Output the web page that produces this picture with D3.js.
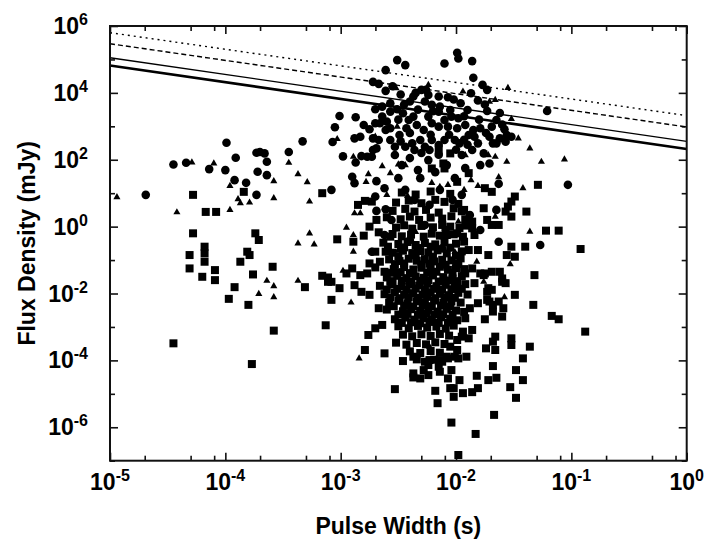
<!DOCTYPE html>
<meta charset="utf-8">
<head>
	<title>Flux Density vs Pulse Width</title>
	<script src="https://cdn.jsdelivr.net/npm/d3@7"></script>
	<style>
		body { margin: 0; background: #fff; }
		text { font-family: "Liberation Sans", Arial, sans-serif; font-weight: bold; fill: #000; }
	</style>
</head>
<body>
	<svg id="chart" width="708" height="540"></svg>
	<script>
		// every point is [log10 pulse width (s), log10 flux density (mJy)]
		var circles = [
			[-4.69,0.95],[-4.45,1.86],[-4.34,1.91],[-4.14,1.72],[-4.00,1.69],[-3.99,2.51],[-3.91,2.06],[-3.92,1.39],[-3.82,1.31],[-3.73,0.95],
			[-3.72,1.64],[-3.73,2.21],[-3.70,2.23],[-3.66,2.19],[-3.64,1.94],[-3.64,1.54],[-3.45,2.23],[-3.33,2.55],[-3.08,1.10],[-3.07,2.53],
			[-3.05,2.97],[-3.01,3.31],[-2.98,2.10],[-2.90,1.49],[-2.88,1.30],[-2.87,3.27],[-2.88,2.64],[-2.87,1.92],[-2.82,2.11],[-2.77,2.09],
			[-2.73,2.09],[-2.72,2.29],[-2.69,1.36],[-2.62,1.15],[-2.70,0.90],[-2.61,0.52],[-2.69,0.47],[-2.73,-0.75],
			[-2.51,4.98],[-2.44,4.83],[-2.61,4.68],[-2.72,4.33],[-2.67,4.27],[-2.61,4.06],[-2.57,3.69],[-2.40,3.74],[-2.37,3.89],[-2.30,4.09],
			[-2.26,4.09],[-2.27,3.74],[-2.70,3.51],[-2.64,3.59],[-2.57,3.44],[-2.51,3.51],[-2.64,3.29],[-2.60,3.14],[-2.61,2.89],[-2.57,2.94],
			[-2.66,3.09],[-2.46,3.39],[-2.41,3.19],[-2.43,2.94],[-2.37,3.29],[-2.34,3.04],[-2.70,3.09],[-2.80,3.04],[-2.75,2.91],[-2.83,2.69],
			[-2.67,2.59],[-2.57,2.59],[-2.69,2.34],[-2.53,2.39],[-2.44,2.39],[-2.38,2.49],[-2.31,2.59],[-2.28,2.89],[-2.27,2.39],[-2.72,2.64],
			[-1.99,5.20],[-1.98,5.03],[-2.10,4.88],[-1.86,4.95],[-1.85,4.45],[-1.77,4.24],[-1.73,4.09],[-2.24,3.94],[-2.15,3.89],[-2.07,3.87],
			[-1.96,3.69],[-1.87,3.99],[-1.81,3.77],[-1.90,3.49],[-1.73,3.46],[-1.65,3.19],[-1.21,3.46],[-2.21,3.64],[-2.14,3.59],[-2.15,3.44],
			[-2.05,3.49],[-2.04,3.29],[-1.98,3.24],[-2.10,3.19],[-2.24,3.29],[-2.21,3.09],[-2.15,2.99],[-2.07,2.99],[-1.99,2.94],[-1.92,3.04],
			[-1.85,2.89],[-1.79,2.94],[-1.89,2.74],[-1.84,2.69],[-1.69,2.99],[-1.58,2.91],[-1.56,2.74],[-1.62,2.64],[-1.52,2.69],[-1.71,2.69],
			[-1.68,2.49],[-2.10,2.59],[-2.01,2.59],[-1.97,2.49],[-2.21,2.59],[-2.15,2.44],[-1.81,2.49],[-1.65,2.49],[-1.57,2.54],
			[-1.03,1.25],[-1.27,-0.55],[-1.71,1.89],[-1.63,1.28],[-1.65,0.50],[-1.63,-0.45],[-1.86,2.29],[-1.76,2.19],
			[-2.53,2.14],[-2.47,1.84],[-2.40,2.05],[-2.33,1.69],[-2.24,1.99],[-2.18,1.63],[-2.08,1.84],[-2.01,1.45],[-1.92,1.75],[-2.14,1.10],
			[-2.03,0.80],[-2.23,0.65],[-1.95,0.95],[-2.44,1.10],[-2.36,0.80],[-2.56,0.20],[-2.27,0.05],[-2.09,-0.10],[-1.88,0.35],[-1.79,-0.10],
			[-2.12,-0.65],[-2.40,-0.40],[-2.62,-0.25],[-2.49,2.74],[-2.36,2.29],[-2.23,2.29],[-1.95,2.14],[-1.79,1.84],[-2.50,1.45],[-2.31,1.45],
			[-2.55,4.20],[-2.48,3.95],[-2.35,4.00],[-2.45,3.65],[-2.33,3.50],[-2.20,3.45],[-2.02,3.80],[-1.93,3.30],[-1.80,3.20],[-1.75,3.65],
			[-1.62,3.40],[-2.50,3.20],[-2.48,2.55],[-2.40,2.80],[-2.22,2.75],[-2.06,2.75],[-1.93,2.60],[-1.74,2.80],[-1.60,3.05],[-2.30,2.20],
			[-2.15,2.15],[-2.00,2.30],[-1.90,2.45]
		];

		var triangles = [
			[-4.94,0.88],[-4.42,0.43],[-4.29,1.92],[-4.10,1.89],[-3.96,1.22],[-3.96,0.50],[-3.89,0.82],[-3.87,0.70],[-3.79,0.72],[-3.58,1.36],
			[-3.58,0.85],[-3.45,1.91],[-3.37,1.57],[-3.29,1.33],[-3.27,0.75],[-3.37,-0.50],[-3.27,-0.20],[-3.23,-0.53],[-2.95,-0.03],[-2.89,-0.25],
			[-2.89,-0.75],[-3.64,-1.62],[-3.71,-2.01],[-3.58,-1.78],[-3.58,-2.11],[-3.37,-1.62],[-2.91,-2.27],[-2.84,-3.94],[-2.89,2.09],[-2.88,0.40],
			[-2.83,0.40],[-2.78,1.34],[-2.76,1.57],[-2.60,0.95],[-2.57,1.60],[-2.50,1.86],[-2.44,1.84],[-2.52,4.14],[-2.24,4.24],[-2.51,2.99],
			[-3.03,2.62],[-2.70,2.69],[-1.94,4.04],[-1.55,4.15],[-1.71,3.74],[-1.66,3.79],[-1.52,3.22],[-1.46,2.64],[-1.36,2.34],[-1.26,1.94],
			[-1.06,2.01],[-1.56,1.94],[-1.63,1.48],[-1.42,1.15],[-1.87,1.39],[-1.81,1.22],[-1.93,1.10],[-2.07,1.25],[-2.14,1.19],[-1.66,0.30],
			[-1.98,0.15],[-1.36,-0.15],[-1.92,2.14],[-1.72,2.14],[-1.66,2.09],[-2.98,-1.32],[-1.82,-1.05],[-1.53,-1.12],[-1.76,-1.65],[-1.58,-2.11],
			[-2.23,-3.59],[-2.42,0.92],[-2.21,1.31],[-2.64,1.81],[-2.35,-0.16],[-2.01,-0.76],[-2.50,-0.70],[-2.29,-1.06],[-2.08,-1.66],[-2.55,-1.66]
		];

		var squares = [
			[-4.28,0.95],[-3.84,1.04],[-4.17,0.44],[-4.08,0.44],[-4.28,-0.20],[-3.74,-0.20],[-3.71,-0.40],[-4.31,-0.85],[-4.18,-0.60],[-4.18,-0.80],
			[-4.18,-1.05],[-3.81,-0.75],[-3.79,-0.85],[-3.87,-1.05],[-4.31,-1.25],[-4.09,-1.30],[-3.59,-1.20],[-3.76,-1.43],[-3.16,1.00],[-3.03,-0.38],
			[-2.89,-0.45],[-2.85,0.65],[-4.20,-1.50],[-4.09,-1.60],[-3.92,-1.81],[-3.97,-2.16],[-3.80,-2.34],[-3.58,-3.11],[-4.45,-3.49],[-3.77,-4.11],
			[-3.31,-1.81],[-3.16,-1.47],[-3.11,-1.52],[-3.11,-1.65],[-3.08,-1.65],[-3.08,-2.19],[-3.13,-2.95],[-3.01,-1.84],[-2.95,-1.40],[-2.90,-1.25],
			[-2.88,-1.75],[-2.79,0.77],[-2.73,0.75],[-2.69,0.20],[-2.75,0.00],[-2.80,-0.27],[-2.67,-0.17],[-2.57,-0.30],[-2.59,-0.60],[-2.83,-1.45],
			[-2.77,-1.40],[-2.75,-1.10],[-2.66,-1.05],[-2.62,-1.35],[-2.57,-1.65],[-2.82,-1.95],[-2.75,-2.04],[-2.67,-2.44],[-2.64,-2.94],[-2.70,-3.04],
			[-2.76,-3.24],[-2.79,-3.69],[-2.62,-3.79],[-2.70,-0.75],[-2.61,-0.75],
			[-1.32,-1.45],[-1.49,-2.04],[-1.33,-2.34],[-1.17,-2.67],[-1.11,-2.77],[-0.88,-3.14],[-1.75,-2.77],[-1.60,-2.69],[-1.59,-2.44],[-1.66,-3.29],
			[-1.68,-3.44],[-1.74,-3.64],[-1.66,-3.69],[-1.52,-3.34],[-1.52,-3.54],[-1.36,-3.59],[-1.42,-3.94],[-1.72,-0.85],[-1.56,-0.85],[-1.49,-0.90],
			[-1.62,-1.35],[-1.60,-1.65],[-1.75,-1.40],[-1.72,-1.84],[-1.69,-1.89],[-1.73,-2.19],[-1.68,-2.34],[-1.84,-1.69],[-1.81,-2.29],[-1.88,-2.44],
			[-1.92,-2.74],[-1.86,-3.09],[-1.94,-3.14],[-1.89,-3.34],[-1.95,-3.29],[-2.05,-3.59],[-1.99,-3.69],[-2.08,-3.89],[-2.01,-3.89],[-1.91,-3.89],
			[-1.98,-1.10],[-1.92,-1.40],[-1.79,-1.40],[-1.86,-1.25],
			[-1.48,-4.29],[-1.42,-4.59],[-1.48,-5.12],[-1.53,-4.80],[-1.68,-4.17],[-1.65,-4.52],[-1.72,-4.59],[-1.82,-4.46],[-1.86,-4.95],[-1.81,-4.83],
			[-1.67,-5.63],[-1.83,-6.20],[-2.04,-5.86],[-1.98,-6.83],[-2.16,-5.28],[-2.18,-4.91],[-2.05,-4.83],[-2.02,-5.09],[-1.94,-4.98],[-1.97,-4.59],
			[-2.07,-4.54],[-2.37,-4.51],[-2.31,-4.54],[-2.28,-4.29],[-2.24,-4.14],[-2.15,-4.19],[-2.14,-3.99],[-2.23,-3.99],[-2.53,-4.86],[-1.99,-3.39],
			[-1.68,-2.54],[-1.71,-2.24],[-1.63,-2.24],[-1.73,-1.95],[-1.60,-1.55],[-1.57,-1.69],[-1.76,-1.45],[-1.69,-1.35],[-2.02,-4.83],[-2.14,-4.34],
			[-2.12,-4.04],[-2.07,-3.94],[-2.04,-4.29],[-1.98,-3.94],[-2.24,-4.44],[-2.37,-3.89],[-2.37,-4.39],
			[-2.15,2.29],[-2.05,2.19],[-2.11,1.89],[-2.10,1.74],[-2.21,1.74],[-1.89,1.60],[-1.99,1.34],[-1.75,1.15],[-1.69,1.04],[-1.49,0.90],
			[-1.52,0.75],[-1.55,0.60],[-1.39,0.45],[-1.29,1.25],[-1.93,0.50],[-1.76,0.55],[-1.57,0.45],[-1.52,0.30],[-1.73,0.20],[-1.69,0.05],
			[-1.63,0.05],[-1.22,-0.12],[-1.11,-0.12],[-0.92,-0.67],[-2.05,0.00],[-1.99,-0.20],[-2.08,-0.25],[-1.86,0.15],[-1.86,-0.05],[-1.84,-0.25],
			[-1.52,-0.60],[-1.40,-0.60],[-1.89,-0.70],[-1.81,-0.70],
			// the dense core
			[-2.47,1.02],[-2.35,0.96],[-2.22,1.05],[-2.05,0.98],
			[-2.52,0.72],[-2.41,0.78],[-2.30,0.70],[-2.18,0.80],[-2.10,0.74],[-1.98,0.68],
			[-2.55,0.47],[-2.44,0.53],[-2.36,0.45],[-2.26,0.50],[-2.15,0.42],[-2.02,0.55],[-1.95,0.46],
			[-2.60,0.28],[-2.48,0.22],[-2.40,0.30],[-2.32,0.20],[-2.22,0.27],[-2.12,0.24],[-2.04,0.31],[-1.92,0.22],
			[-2.52,-0.03],[-2.45,0.04],[-2.38,-0.06],[-2.30,0.02],[-2.20,-0.02],[-2.12,0.05],[-1.97,-0.04],[-1.92,0.03],
			[-2.55,-0.22],[-2.47,-0.29],[-2.39,-0.24],[-2.28,-0.30],[-2.21,-0.21],[-2.14,-0.27],[-2.02,-0.23],[-1.94,-0.30],
			[-2.63,-0.48],[-2.50,-0.52],[-2.42,-0.46],[-2.35,-0.55],[-2.27,-0.49],[-2.18,-0.53],[-2.10,-0.47],[-2.00,-0.51],[-1.93,-0.45],
			[-2.55,-0.78],[-2.46,-0.72],[-2.38,-0.79],[-2.31,-0.73],[-2.24,-0.77],[-2.16,-0.71],[-2.08,-0.80],[-1.95,-0.74],
			[-2.58,-0.98],[-2.49,-1.03],[-2.41,-0.96],[-2.34,-1.02],[-2.27,-0.97],[-2.19,-1.04],[-2.12,-0.99],[-2.04,-1.01],[-1.96,-0.95],
			[-2.70,-1.22],[-2.54,-1.27],[-2.45,-1.21],[-2.37,-1.28],[-2.30,-1.23],[-2.22,-1.26],[-2.14,-1.20],[-2.07,-1.29],[-2.00,-1.24],[-1.93,-1.27],
			[-2.60,-1.52],[-2.51,-1.47],[-2.43,-1.54],[-2.35,-1.49],[-2.28,-1.53],[-2.20,-1.46],[-2.11,-1.51],[-2.03,-1.55],[-1.95,-1.48],
			[-2.66,-1.77],[-2.56,-1.72],[-2.47,-1.79],[-2.40,-1.73],[-2.32,-1.76],[-2.25,-1.71],[-2.17,-1.78],[-2.09,-1.74],[-2.01,-1.77],[-1.92,-1.72],
			[-2.62,-2.02],[-2.53,-1.97],[-2.45,-2.04],[-2.37,-1.99],[-2.29,-2.03],[-2.22,-1.96],[-2.14,-2.01],[-2.06,-2.05],[-1.98,-1.98],[-1.90,-2.03],
			[-2.58,-2.27],[-2.50,-2.22],[-2.42,-2.29],[-2.34,-2.23],[-2.27,-2.26],[-2.19,-2.21],[-2.11,-2.28],[-2.04,-2.24],[-1.96,-2.27],
			[-2.60,-2.48],[-2.46,-2.53],[-2.39,-2.47],[-2.31,-2.52],[-2.24,-2.49],[-2.16,-2.54],[-2.08,-2.46],[-2.00,-2.51],[-1.93,-2.55],
			[-2.53,-2.77],[-2.44,-2.72],[-2.36,-2.78],[-2.28,-2.74],[-2.21,-2.79],[-2.13,-2.71],[-2.05,-2.76],[-1.99,-2.80],
			[-2.50,-2.98],[-2.41,-3.04],[-2.33,-2.97],[-2.25,-3.02],[-2.17,-2.99],[-2.09,-3.05],[-2.02,-2.96],
			[-2.46,-3.23],[-2.38,-3.28],[-2.30,-3.22],[-2.22,-3.27],[-2.14,-3.21],[-2.06,-3.26],
			[-2.52,-3.47],[-2.43,-3.53],[-2.34,-3.48],[-2.26,-3.52],[-2.18,-3.46],[-2.10,-3.51],
			[-2.40,-3.73],[-2.31,-3.78],[-2.22,-3.72],[-2.14,-3.77],
			[-2.46,-4.02],[-2.34,-3.97],[-2.27,-4.04],[-2.19,-3.98],
			[-2.45,-0.62],[-2.33,-0.64],[-2.22,-0.60],[-2.05,-0.63],
			[-2.50,-0.88],[-2.35,-0.86],[-2.20,-0.90],[-2.00,-0.87],
			[-2.53,-1.12],[-2.45,-1.10],[-2.30,-1.13],[-2.23,-1.11],[-2.09,-1.14],[-1.99,-1.12],
			[-2.57,-1.38],[-2.48,-1.36],[-2.40,-1.39],[-2.25,-1.37],[-2.17,-1.35],[-2.03,-1.38],
			[-2.55,-1.63],[-2.47,-1.61],[-2.39,-1.64],[-2.31,-1.62],[-2.24,-1.60],[-2.15,-1.64],[-2.07,-1.61],[-1.99,-1.63],
			[-2.60,-1.88],[-2.51,-1.86],[-2.43,-1.89],[-2.35,-1.85],[-2.27,-1.88],[-2.19,-1.86],[-2.12,-1.89],[-2.04,-1.87],[-1.95,-1.86],
			[-2.57,-2.12],[-2.49,-2.14],[-2.41,-2.11],[-2.33,-2.13],[-2.25,-2.10],[-2.18,-2.14],[-2.10,-2.12],[-2.01,-2.13],
			[-2.54,-2.38],[-2.45,-2.36],[-2.37,-2.39],[-2.29,-2.35],[-2.21,-2.38],[-2.13,-2.36],[-2.05,-2.39],
			[-2.50,-2.63],[-2.42,-2.61],[-2.33,-2.64],[-2.26,-2.60],[-2.19,-2.63],[-2.11,-2.62],[-2.03,-2.64],
			[-2.47,-2.88],[-2.39,-2.86],[-2.31,-2.89],[-2.23,-2.85],[-2.15,-2.88],[-2.07,-2.87]
		];

		// four sensitivity lines: log10 flux at the two ends of the width range
		var lineWidthEnds = [-5, 0];
		var lineFlux = [
			[4.82, 2.32],
			[5.05, 2.55],
			[5.47, 2.98],
			[5.80, 3.32]
		];

		var xDecades = [-5, -4, -3, -2, -1, 0];
		var yDecades = [-7, -6, -5, -4, -3, -2, -1, 0, 1, 2, 3, 4, 5, 6];
		var yLabelled = [-6, -4, -2, 0, 2, 4, 6];
		var xMinorMult = [2, 5, 8];

		var plotL = 110, plotR = 686.7, plotT = 26, plotB = 460.7;

		var xScale = d3.scaleLog().domain([1e-5, 1]).range([plotL, plotR]);
		var yScale = d3.scaleLog().domain([1e-7, 1e6]).range([plotB, plotT]);

		var svg = d3.select("#chart");

		var xMajor = xDecades.map(function (e) { return Math.pow(10, e); });
		var xMinor = [];
		xDecades.slice(0, -1).forEach(function (e) {
			xMinorMult.forEach(function (m) { xMinor.push(m * Math.pow(10, e)); });
		});
		var yMajor = yLabelled.map(function (e) { return Math.pow(10, e); });
		var yMinor = yDecades.filter(function (e) { return yLabelled.indexOf(e) < 0; })
			.map(function (e) { return Math.pow(10, e); });

		// inward ticks on all four sides
		function tickAxes(vals, len) {
			svg.append("g").attr("transform", "translate(0," + plotB + ")")
				.call(d3.axisBottom(xScale).tickValues(vals.x).tickSize(-len).tickSizeOuter(0).tickFormat(""));
			svg.append("g").attr("transform", "translate(0," + plotT + ")")
				.call(d3.axisTop(xScale).tickValues(vals.x).tickSize(-len).tickSizeOuter(0).tickFormat(""));
			svg.append("g").attr("transform", "translate(" + plotL + ",0)")
				.call(d3.axisLeft(yScale).tickValues(vals.y).tickSize(-len).tickSizeOuter(0).tickFormat(""));
			svg.append("g").attr("transform", "translate(" + plotR + ",0)")
				.call(d3.axisRight(yScale).tickValues(vals.y).tickSize(-len).tickSizeOuter(0).tickFormat(""));
		}
		tickAxes({ x: xMajor, y: yMajor }, 8);
		tickAxes({ x: xMinor, y: yMinor }, 5);
		svg.selectAll(".domain").remove();
		svg.selectAll(".tick line").attr("stroke", "#111").attr("stroke-width", 1.6);

		// sensitivity lines
		var line = d3.line()
			.x(function (d) { return xScale(Math.pow(10, d[0])); })
			.y(function (d) { return yScale(Math.pow(10, d[1])); });
		var lineStyle = [
			{ w: 2.6, dash: null },
			{ w: 1.3, dash: null },
			{ w: 1.4, dash: "5,3" },
			{ w: 1.4, dash: "2,4" }
		];
		lineFlux.forEach(function (f, i) {
			svg.append("path")
				.datum([[lineWidthEnds[0], f[0]], [lineWidthEnds[1], f[1]]])
				.attr("d", line)
				.attr("fill", "none")
				.attr("stroke", "#000")
				.attr("stroke-width", lineStyle[i].w)
				.attr("stroke-dasharray", lineStyle[i].dash);
		});

		// markers
		function plot(data, type, size) {
			svg.append("g").selectAll("path")
				.data(data)
				.enter()
				.append("path")
				.attr("d", d3.symbol().type(type).size(size))
				.attr("transform", function (d) {
					return "translate(" + xScale(Math.pow(10, d[0])).toFixed(2) + "," + yScale(Math.pow(10, d[1])).toFixed(2) + ")";
				})
				.attr("fill", "#000");
		}
		plot(squares, d3.symbolSquare, 64);
		plot(circles, d3.symbolCircle, 58);
		plot(triangles, d3.symbolTriangle, 22);

		// frame
		svg.append("rect")
			.attr("x", plotL).attr("y", plotT)
			.attr("width", plotR - plotL).attr("height", plotB - plotT)
			.attr("fill", "none").attr("stroke", "#111").attr("stroke-width", 2);

		// tick labels: 10 with superscript exponent
		function powLabel(sel, e) {
			sel.append("tspan").attr("font-size", 23).text("10");
			sel.append("tspan").attr("font-size", 16).attr("dy", -9).text(e);
		}
		xDecades.forEach(function (e) {
			var t = svg.append("text")
				.attr("x", xScale(Math.pow(10, e)))
				.attr("y", 490)
				.attr("text-anchor", "middle");
			powLabel(t, e);
		});
		yLabelled.forEach(function (e) {
			var t = svg.append("text")
				.attr("x", 88)
				.attr("y", yScale(Math.pow(10, e)) + 8)
				.attr("text-anchor", "end");
			powLabel(t, e);
		});

		// axis titles
		svg.append("text")
			.attr("x", (plotL + plotR) / 2)
			.attr("y", 534)
			.attr("text-anchor", "middle")
			.attr("font-size", 23)
			.text("Pulse Width (s)");
		svg.append("text")
			.attr("transform", "translate(35," + ((plotT + plotB) / 2) + ") rotate(-90)")
			.attr("text-anchor", "middle")
			.attr("font-size", 23)
			.text("Flux Density (mJy)");
	</script>
</body>
